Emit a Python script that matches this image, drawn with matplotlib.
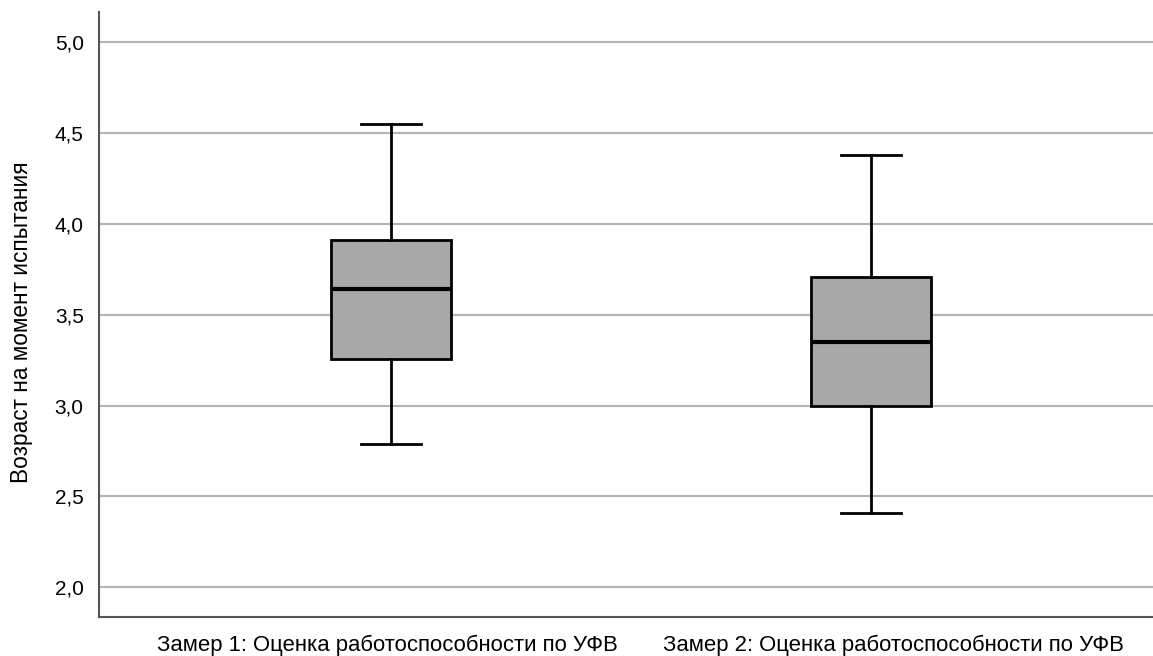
import matplotlib
matplotlib.use("Agg")
import matplotlib.pyplot as plt
from matplotlib.transforms import ScaledTranslation

categories = ["Замер 1: Оценка работоспособности по УФВ",
              "Замер 2: Оценка работоспособности по УФВ"]
whislo = [2.79, 2.41]
q1 = [3.255, 3.0]
med = [3.64, 3.35]
q3 = [3.91, 3.71]
whishi = [4.55, 4.38]
yticks = [2.0, 2.5, 3.0, 3.5, 4.0, 4.5, 5.0]
ylabel = "Возраст на момент испытания"

plt.rcParams['font.family'] = ['Liberation Sans', 'DejaVu Sans']

fig = plt.figure(figsize=(11.53, 6.56), dpi=100)
ax = fig.add_axes([99/1153, 1-617/656, 1-99/1153, (617-12)/656])

stats = []
for i, c in enumerate(categories):
    stats.append(dict(label=c, whislo=whislo[i], q1=q1[i], med=med[i],
                      q3=q3[i], whishi=whishi[i], fliers=[]))

ax.bxp(stats, positions=[1, 2], widths=0.252, patch_artist=True,
       showfliers=False,
       boxprops=dict(facecolor='#a8a8a8', edgecolor='black', linewidth=2),
       medianprops=dict(color='black', linewidth=3),
       whiskerprops=dict(color='black', linewidth=2),
       capprops=dict(color='black', linewidth=2),
       capwidths=0.126, zorder=3)

ax.set_xlim(1 - 292/480, 2 + 282/480)
ax.set_ylim(1.837, 5.165)
ax.set_yticks(yticks)
ax.set_yticklabels([f"{v:.1f}".replace('.', ',') for v in yticks])
ax.yaxis.grid(True, color='#b4b4b4', linewidth=1.5, zorder=0)
ax.set_axisbelow(True)
ax.tick_params(axis='both', length=0, colors='black')
ax.tick_params(axis='y', pad=11, labelsize=15)
ax.tick_params(axis='x', pad=13, labelsize=15.9)
for s in ['top', 'right']:
    ax.spines[s].set_visible(False)
for s in ['left', 'bottom']:
    ax.spines[s].set_color('#555555')
    ax.spines[s].set_linewidth(1.5)
ax.set_ylabel(ylabel, fontsize=16.3)
ax.yaxis.set_label_coords(-0.0626, 0.4876)

# small horizontal offsets of category labels as in the reference
offsets_px = [-4, 22]
for lab, dx in zip(ax.get_xticklabels(), offsets_px):
    lab.set_transform(lab.get_transform() + ScaledTranslation(dx / 100, 0, fig.dpi_scale_trans))

fig.savefig("out.png", dpi=100)
